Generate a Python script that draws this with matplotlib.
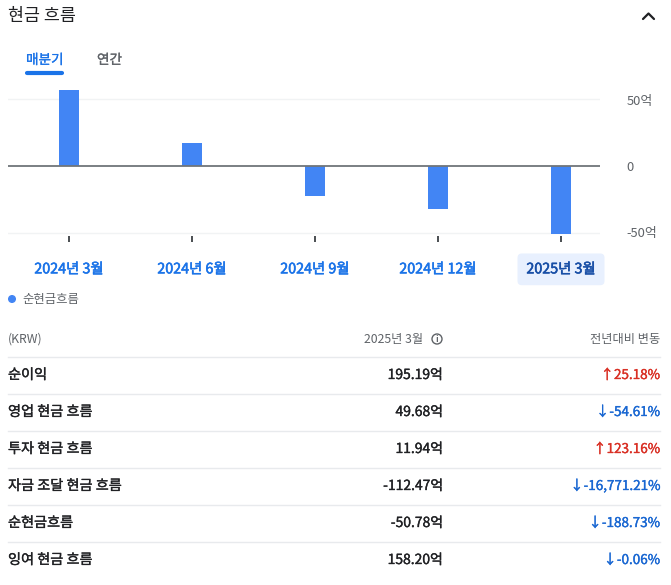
import numpy as np
import matplotlib.pyplot as plt
import matplotlib.patheffects as pe
from matplotlib.patches import Circle

plt.rcParams['font.family'] = ['Noto Sans CJK KR', 'DejaVu Sans']

# chart data (억 KRW)
periods = ['2024년 3월', '2024년 6월', '2024년 9월', '2024년 12월', '2025년 3월']
net_cash = [57.3, 17.3, -22.6, -32.0, -50.78]
ytick_vals = [-50, 0, 50]
ytick_labels = ['-50억', '0', '50억']

# table data
row_names = ['순이익', '영업 현금 흐름', '투자 현금 흐름', '자금 조달 현금 흐름', '순현금흐름', '잉여 현금 흐름']
row_values = ['195.19억', '49.68억', '11.94억', '-112.47억', '-50.78억', '158.20억']
row_changes = ['↑25.18%', '↓-54.61%', '↑123.16%', '↓-16,771.21%', '↓-188.73%', '↓-0.06%']

BLUE = '#4285f4'
TXT = '#202124'
GRAY = '#5f6368'
LINE = '#e8eaed'
UP = '#d93025'
DOWN = '#1967d2'

W, H = 671, 585
fig = plt.figure(figsize=(W / 100, H / 100), dpi=100)


def medium(color, w=0.25):
    # fake a medium font weight with a thin outline
    return [pe.withStroke(linewidth=w, foreground=color)]


# overlay axes in pixel coords for the page chrome and table
ov = fig.add_axes([0, 0, 1, 1])
ov.set_xlim(0, W)
ov.set_ylim(H, 0)
ov.axis('off')

ov.text(8, 16, '현금 흐름', fontsize=12.5, color=TXT, va='center', ha='left')
ov.plot([643, 648.5, 654], [19, 13.5, 19], color=TXT, lw=1.6, solid_capstyle='round')

ov.text(26, 60, '매분기', fontsize=9.8, color='#1a73e8', va='center', ha='left',
        path_effects=medium('#1a73e8', 0.2))
ov.text(97, 60, '연간', fontsize=9.8, color=GRAY, va='center', ha='left',
        path_effects=medium(GRAY, 0.2))
ov.plot([27, 62], [73, 73], color='#1a73e8', lw=3, solid_capstyle='round')

ov.add_patch(Circle((12, 299), 3.3, color=BLUE))
ov.text(22, 299, '순현금흐름', fontsize=8.9, color=GRAY, va='center', ha='left')

# table
ov.text(8, 339, '(KRW)', fontsize=8.8, color=GRAY, va='center', ha='left')
ov.text(423, 339, '2025년 3월', fontsize=8.8, color=GRAY, va='center', ha='right')
ov.add_patch(Circle((437, 339), 5, fill=False, ec=GRAY, lw=1))
ov.text(437, 339.5, 'i', fontsize=6, color=GRAY, va='center', ha='center', fontweight='bold')
ov.text(660, 339, '전년대비 변동', fontsize=8.8, color=GRAY, va='center', ha='right')

row_h = 37
for i, (name, val, chg) in enumerate(zip(row_names, row_values, row_changes)):
    y = 375 + i * row_h
    c = UP if chg.startswith('↑') else DOWN
    ov.plot([8, 660], [y - 18.5, y - 18.5], color=LINE, lw=1)
    ov.text(8, y, name, fontsize=10.2, color=TXT, va='center', ha='left',
            path_effects=medium(TXT))
    ov.text(443, y, val, fontsize=10, color=TXT, va='center', ha='right',
            path_effects=medium(TXT))
    ov.text(660, y, chg, fontsize=9.7, color=c, va='center', ha='right',
            path_effects=medium(c))

# bar chart axes
ppu = 1.33  # pixels per 억
zero_px = 166
y_top, y_bot = 62, -52.6
top_px = zero_px - y_top * ppu
bot_px = zero_px - y_bot * ppu
x_left, x_right = 8, 600
ax = fig.add_axes([x_left / W, (H - bot_px) / H, (x_right - x_left) / W, (bot_px - top_px) / H])
ax.set_facecolor('none')

x = np.arange(len(periods))
ax.bar(x, net_cash, width=0.155, color=BLUE, zorder=3)
ax.set_xlim(-0.496, 4.317)
ax.set_ylim(y_bot, y_top)

for v in ytick_vals:
    if v == 0:
        ax.axhline(v, color='#70757a', lw=1.3, zorder=4)
    else:
        ax.axhline(v, color='#f1f3f4', lw=1, zorder=1)

for s in ax.spines.values():
    s.set_visible(False)

ax.yaxis.tick_right()
ax.set_yticks(ytick_vals, ytick_labels)
ax.tick_params(axis='y', length=0, pad=19, labelsize=9.3, labelcolor=GRAY)

ax.set_xticks(x, periods)
ax.tick_params(axis='x', length=4, width=1.3, color='#3c4043', pad=15,
               labelsize=10.3, labelcolor='#1a73e8')
for lbl in ax.get_xticklabels():
    lbl.set_path_effects(medium('#1a73e8', 0.4))
last = ax.get_xticklabels()[-1]
last.set_color('#174ea6')
last.set_path_effects(medium('#174ea6', 0.4))
last.set_bbox(dict(boxstyle='round,pad=0.62,rounding_size=0.3', fc='#e8f0fe', ec='none'))

fig.savefig('out.png', dpi=100)
